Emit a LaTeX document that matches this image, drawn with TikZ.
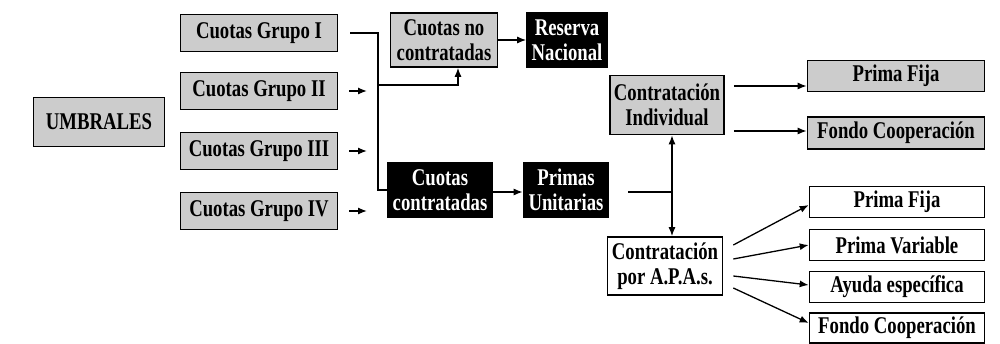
\documentclass[tikz,border=0pt]{standalone}
\usepackage{fontspec}
\setmainfont{Liberation Serif}[FakeStretch=0.78]
\usetikzlibrary{arrows.meta}

\tikzset{
    box/.style={draw, line width=1.6pt, inner sep=0pt, align=center,
        font=\bfseries\fontsize{24}{25}\selectfont},
    greybox/.style={box, fill=black!20},
    darkbox/.style={box, fill=black, text=white},
    whitebox/.style={box, fill=white},
    link/.style={line width=1.3pt},
    arr/.style={link, -{Latex[length=9pt,width=7pt]}},
}

\begin{document}
\begin{tikzpicture}[x=1pt,y=-1pt]
    \useasboundingbox (0,0) rectangle (1000,344);

    \node[greybox, minimum width=131pt, minimum height=49pt] (umbrales) at (99,122) {UMBRALES};
    \foreach \n/\y in {I/33, II/91, III/151, IV/211}
        \node[greybox, minimum width=157pt, minimum height=37pt] (grupo\n) at (259,\y) {Cuotas Grupo \n};

    \node[greybox, minimum width=107pt, minimum height=54pt] (nocontr) at (444,40) {Cuotas no\\contratadas};
    \node[darkbox, minimum width=104pt, minimum height=54pt] (contr) at (440,190) {Cuotas\\contratadas};
    \node[darkbox, minimum width=80pt, minimum height=54pt] (reserva) at (567,40) {Reserva\\Nacional};
    \node[darkbox, minimum width=85pt, minimum height=54pt] (primas) at (566,190) {Primas\\Unitarias};

    \node[greybox, minimum width=114pt, minimum height=59pt] (cind) at (667,105) {Contratación\\Individual};
    \node[whitebox, minimum width=115pt, minimum height=58pt] (capas) at (665,266) {Contratación\\por A.P.A.s.};

    \node[greybox, minimum width=177pt, minimum height=31pt] (fija1) at (896,76) {Prima Fija};
    \node[greybox, minimum width=177pt, minimum height=32pt] (fondo1) at (896,133) {Fondo Cooperación};
    \node[whitebox, minimum width=175pt, minimum height=31pt] (fija2) at (897,202) {Prima Fija};
    \node[whitebox, minimum width=175pt, minimum height=31pt] (variable) at (897,245) {Prima Variable};
    \node[whitebox, minimum width=175pt, minimum height=31pt] (ayuda) at (897,287) {Ayuda específica};
    \node[whitebox, minimum width=175pt, minimum height=30pt] (fondo2) at (897,328) {Fondo Cooperación};

    \coordinate (bus) at (378,33);
    \coordinate (split) at (378,85);
    \coordinate (junc) at (672,192);

    \draw[link] ([xshift=12pt]grupoI.east) -- (bus) -- (bus |- contr.west) -- (contr.west);
    \foreach \n in {II, III, IV}
        \draw[arr] ([xshift=11pt]grupo\n.east) -- ([xshift=-11pt]bus |- grupo\n.east);
    \draw[arr] (split) -| ([xshift=14pt]nocontr.south);

    \draw[arr] (nocontr.east) -- (reserva.west);
    \draw[arr] ([yshift=-2pt]contr.east) -- ([yshift=-2pt]primas.west);

    \draw[link] ([xshift=19pt]primas.east |- junc) -- (junc);
    \draw[arr] (junc) -- (junc |- cind.south);
    \draw[arr] (junc) -- (junc |- capas.north);

    \draw[arr] ([xshift=9pt,yshift=19pt]cind.east) -- ([yshift=19pt]cind.east -| fija1.west);
    \draw[arr] ([xshift=9pt,yshift=-26pt]cind.east) -- ([yshift=-26pt]cind.east -| fondo1.west);

    \draw[arr] ([xshift=10pt,yshift=21pt]capas.east) -- ([yshift=-3pt]fija2.west);
    \draw[arr] ([xshift=10pt,yshift=7pt]capas.east) -- (variable.west);
    \draw[arr] ([xshift=10pt,yshift=-10pt]capas.east) -- ([yshift=2pt]ayuda.west);
    \draw[arr] ([xshift=10pt,yshift=-22pt]capas.east) -- ([yshift=5pt]fondo2.west);
\end{tikzpicture}
\end{document}
